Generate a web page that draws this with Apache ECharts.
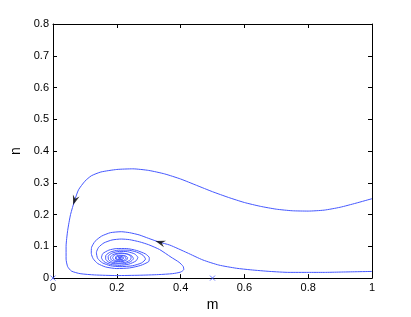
<!DOCTYPE html>
<html><head><meta charset="utf-8">
<script src="https://cdn.jsdelivr.net/npm/echarts@6/dist/echarts.min.js"></script>
<style>html,body{margin:0;padding:0;background:#fff}#c{width:411px;height:317px}</style>
</head><body><div id="c"></div>
<script>
var xTicks = [0, 0.2, 0.4, 0.6, 0.8, 1];
var yTicks = [0, 0.1, 0.2, 0.3, 0.4, 0.5, 0.6, 0.7, 0.8];
// trajectory 1 (outer, starts at right edge n=0.25)
var traj1 = [[1.0,0.250],[0.95,0.236],[0.9,0.223],[0.85,0.214],[0.8,0.211],[0.75,0.212],[0.7,0.217],[0.65,0.226],[0.6,0.238],[0.55,0.254],[0.5,0.272],[0.45,0.292],[0.4,0.312],[0.35,0.328],[0.3,0.339],[0.25,0.344],[0.2,0.342],[0.15,0.334],[0.12,0.322],[0.1,0.305],[0.08,0.278],[0.068,0.245],[0.055,0.2],[0.046,0.15],[0.041,0.1],[0.041,0.06],[0.046,0.036],[0.058,0.022],[0.085,0.014],[0.13,0.01],[0.2,0.008],[0.27,0.009],[0.33,0.011],[0.375,0.014],[0.4,0.019],[0.41,0.027],[0.408,0.037],[0.395,0.05],[0.37,0.066],[0.334,0.09],[0.3,0.105],[0.272,0.114],[0.24,0.121],[0.214,0.123],[0.185,0.12],[0.16,0.111],[0.143,0.097],[0.136,0.08],[0.14,0.062],[0.155,0.048],[0.18,0.039],[0.21,0.036],[0.25,0.039],[0.278,0.048],[0.29,0.06],[0.282,0.072],[0.262,0.082],[0.235,0.088],[0.205,0.088],[0.18,0.082],[0.166,0.072],[0.165,0.06],[0.175,0.05],[0.195,0.045],[0.22,0.045],[0.242,0.051],[0.252,0.061],[0.247,0.07],[0.23,0.077],[0.208,0.079],[0.188,0.074],[0.18,0.066],[0.183,0.057],[0.197,0.052],[0.216,0.052],[0.231,0.057],[0.234,0.065],[0.224,0.071],[0.208,0.072],[0.196,0.067],[0.196,0.06],[0.205,0.057],[0.218,0.058],[0.222,0.064],[0.214,0.068],[0.205,0.065],[0.207,0.061],[0.212,0.062]];
// trajectory 2 (inner, starts at right edge n~0.02)
var traj2 = [[1.0,0.021],[0.95,0.02],[0.9,0.019],[0.85,0.018],[0.8,0.018],[0.74,0.018],[0.68,0.021],[0.62,0.026],[0.575,0.031],[0.52,0.041],[0.47,0.057],[0.42,0.08],[0.366,0.104],[0.334,0.113],[0.3,0.125],[0.27,0.136],[0.24,0.143],[0.214,0.146],[0.18,0.143],[0.152,0.132],[0.132,0.116],[0.121,0.097],[0.12,0.078],[0.126,0.061],[0.14,0.046],[0.165,0.035],[0.2,0.03],[0.24,0.032],[0.275,0.04],[0.3,0.052],[0.302,0.064],[0.29,0.076],[0.262,0.087],[0.23,0.093],[0.2,0.093],[0.175,0.088],[0.156,0.077],[0.152,0.064],[0.16,0.052],[0.18,0.043],[0.208,0.04],[0.238,0.044],[0.26,0.054],[0.266,0.065],[0.256,0.076],[0.234,0.083],[0.208,0.084],[0.186,0.079],[0.173,0.069],[0.174,0.058],[0.186,0.05],[0.206,0.047],[0.228,0.05],[0.243,0.058],[0.245,0.067],[0.234,0.075],[0.214,0.078],[0.196,0.074],[0.187,0.066],[0.19,0.058],[0.203,0.054],[0.22,0.055],[0.229,0.062],[0.225,0.069],[0.212,0.071],[0.2,0.067],[0.199,0.061],[0.208,0.058],[0.217,0.061],[0.216,0.066],[0.208,0.066],[0.206,0.063],[0.21,0.063]];
// equilibrium points
var equilibria = [[0,0],[0.5,0],[0.21,0.063]];
// arrowheads: [m, n, rotation deg]
var arrows = [[0.068,0.245,162],[0.336,0.112,73]];

var FONT = 'Liberation Sans';
var LINE = '#4457ff';
var chart = echarts.init(document.getElementById('c'), null, {renderer:'canvas'});
var axisCommon = {
  axisLine:{show:true, onZero:false, lineStyle:{color:'#000', width:1}},
  axisTick:{show:true, inside:true, length:4, lineStyle:{color:'#000'}},
  splitLine:{show:false}
};
chart.setOption({
  animation:false,
  grid:{left:53, right:39, top:24, bottom:35, show:false},
  xAxis:[
    Object.assign({type:'value', min:0, max:1, interval:0.2, position:'bottom',
      name:'m', nameLocation:'middle', nameGap:15,
      nameTextStyle:{fontFamily:FONT, fontSize:14, color:'#000'},
      axisLabel:{fontFamily:FONT, fontSize:11, color:'#000', margin:4,
        formatter:function(v){return xTicks.indexOf(+v.toFixed(1))>=0 ? String(+v.toFixed(1)) : '';}}}, axisCommon),
    Object.assign({type:'value', min:0, max:1, interval:0.2, position:'top', axisLabel:{show:false}}, axisCommon)
  ],
  yAxis:[
    Object.assign({type:'value', min:0, max:0.8, interval:0.1, position:'left',
      name:'n', nameLocation:'middle', nameGap:25,
      nameTextStyle:{fontFamily:FONT, fontSize:14, color:'#000'},
      axisLabel:{fontFamily:FONT, fontSize:11, color:'#000', margin:4,
        formatter:function(v){return String(+v.toFixed(1));}}}, axisCommon),
    Object.assign({type:'value', min:0, max:0.8, interval:0.1, position:'right', axisLabel:{show:false}}, axisCommon)
  ],
  series:[
    {type:'line', data:traj1, showSymbol:false, symbol:'none', smooth:0.2,
      lineStyle:{color:LINE, width:1}, z:2},
    {type:'line', data:traj2, showSymbol:false, symbol:'none', smooth:0.2,
      lineStyle:{color:LINE, width:1}, z:2},
    {type:'scatter', data:equilibria, symbol:'path://M0,0 L10,10 M10,0 L0,10', symbolSize:5,
      itemStyle:{color:'rgba(0,0,0,0)', borderColor:LINE, borderWidth:1}, z:3},
    {type:'scatter', data:arrows.map(function(a){return {value:[a[0],a[1]], symbolRotate:a[2]};}),
      symbol:'path://M5,0 L10,12 L5,8 L0,12 Z', symbolSize:[7,10],
      itemStyle:{color:'#000'}, z:4}
  ]
});
</script></body></html>
